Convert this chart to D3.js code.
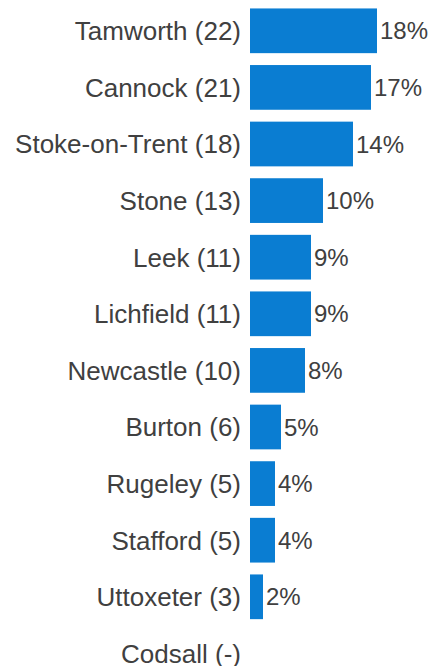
<!DOCTYPE html>
<html>
<head>
<meta charset="utf-8">
<script src="https://cdn.jsdelivr.net/npm/d3@7"></script>
<style>
  body { margin: 0; background: #fff; }
  text { font-family: "Liberation Sans", Arial, sans-serif; fill: #404040; }
</style>
</head>
<body>
<svg id="chart"></svg>
<script>
// towns, response counts and the share shown next to each bar
const towns = ['Tamworth', 'Cannock', 'Stoke-on-Trent', 'Stone', 'Leek', 'Lichfield',
  'Newcastle', 'Burton', 'Rugeley', 'Stafford', 'Uttoxeter', 'Codsall'];
const counts = [22, 21, 18, 13, 11, 11, 10, 6, 5, 5, 3, null];
const shares = ['18%', '17%', '14%', '10%', '9%', '9%', '8%', '5%', '4%', '4%', '2%', null];

const width = 432;
const height = 666;
const labelRight = 241;
const barLeft = 250;

const svg = d3.select('#chart')
  .attr('width', width)
  .attr('height', height);

const data = towns.map((t, i) => ({ town: t, count: counts[i], share: shares[i] }));

const y = d3.scaleBand()
  .domain(towns)
  .range([2.5, 681.7])
  .paddingInner(0.21)
  .paddingOuter(0.105);

const x = d3.scaleLinear()
  .domain([5 / 6, 22])
  .range([barLeft, barLeft + 127]);

const fontSize = 26;
const baseShift = fontSize * 0.358;

const rows = svg.selectAll('.row')
  .data(data)
  .enter()
  .append('g')
  .attr('class', 'row');

rows.append('text')
  .attr('x', labelRight)
  .attr('y', d => y(d.town) + y.bandwidth() / 2 + baseShift)
  .attr('text-anchor', 'end')
  .attr('font-size', fontSize)
  .text(d => `${d.town} (${d.count == null ? '-' : d.count})`);

const withBars = rows.filter(d => d.count != null);

withBars.append('rect')
  .attr('x', barLeft)
  .attr('y', d => y(d.town))
  .attr('width', d => x(d.count) - barLeft)
  .attr('height', y.bandwidth())
  .attr('fill', '#0a7dd2');

withBars.append('text')
  .attr('x', d => x(d.count) + 3)
  .attr('y', d => y(d.town) + y.bandwidth() / 2 + 24 * 0.358)
  .attr('font-size', 24)
  .text(d => d.share);
</script>
</body>
</html>
